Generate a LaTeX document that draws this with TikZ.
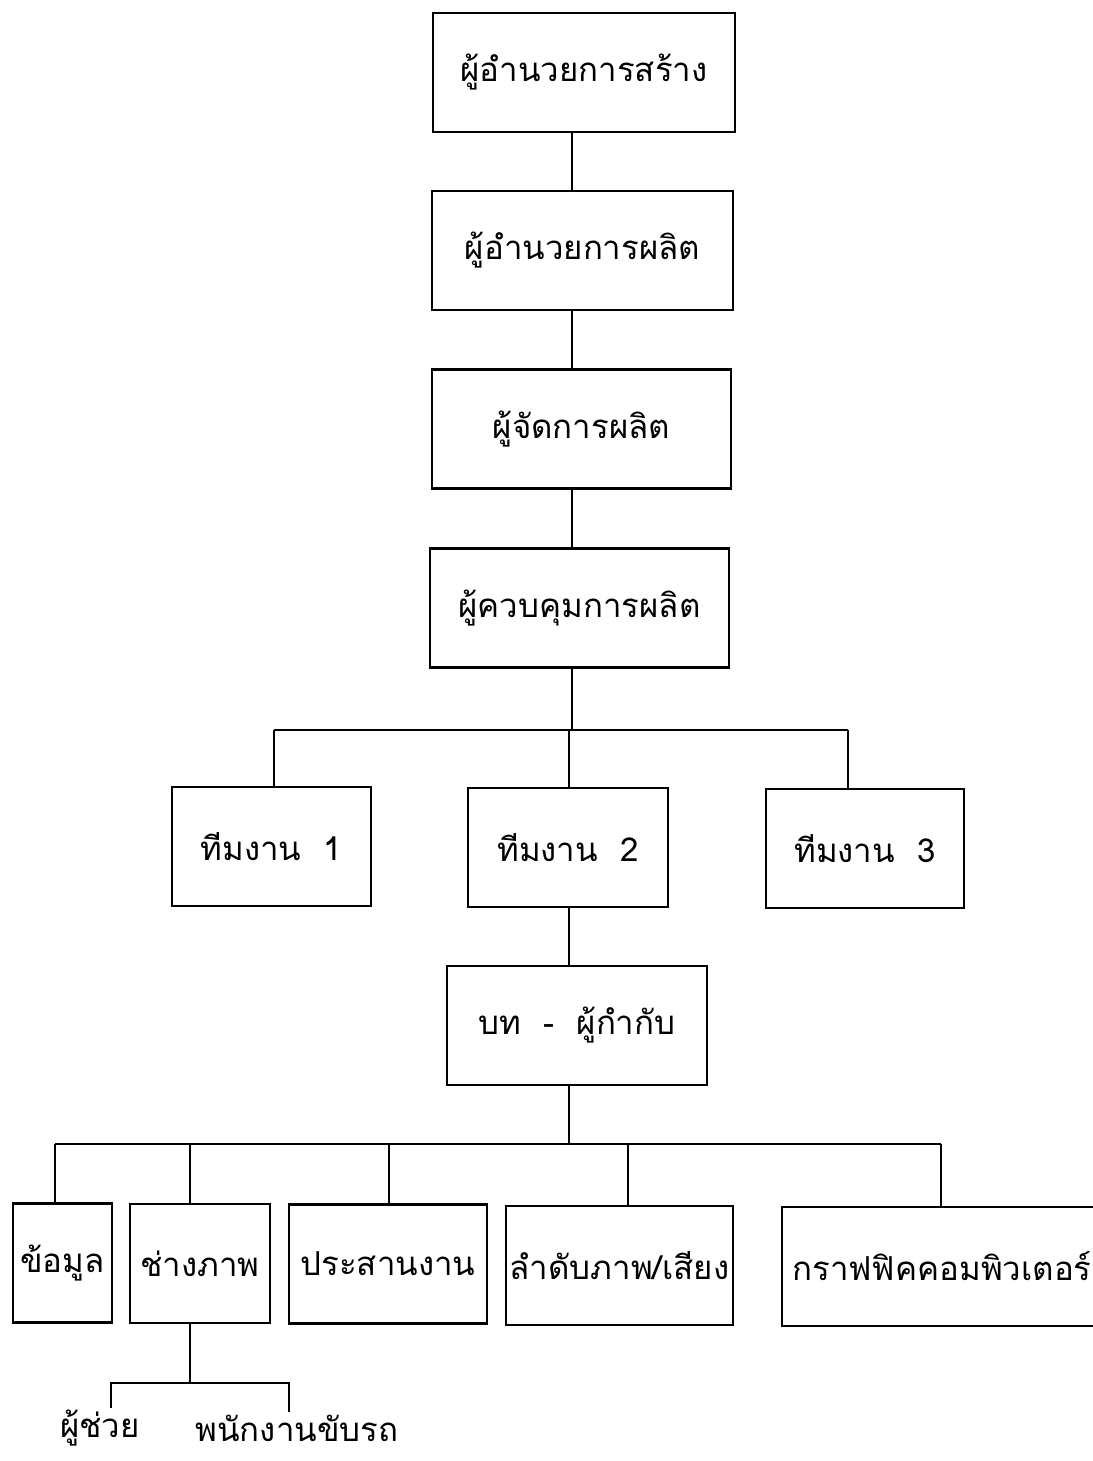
\documentclass[tikz,border=0pt]{standalone}
\usepackage{fontspec}
\newfontfamily\thaifont[Script=Thai]{Loma}
\usetikzlibrary{positioning}

\begin{document}
\begin{tikzpicture}[
    x=0.5pt, y=-0.5pt,
    % styles
    thai/.style={font=\thaifont\fontsize{16.5}{19}\selectfont},
    box/.style={draw, line width=1.3pt, thai, inner sep=0pt,
      minimum height=59.5pt, minimum width={#1*0.5pt}},
    link/.style={line width=1.3pt}]

    \useasboundingbox (0, 0) rectangle (1092, 1461);

    % chain of command
    \node [box=302] (creator) at (584, 72.5) {ผู้อำนวยการสร้าง};
    \node [box=301] (producer) at (582.5, 250.5) {ผู้อำนวยการผลิต};
    \node [box=299] (manager) at (581.5, 429) {ผู้จัดการผลิต};
    \node [box=299] (controller) at (579.5, 608) {ผู้ควบคุมการผลิต};

    % teams
    \node [box=199] (team1) at (271.5, 846.5) {ทีมงาน\ \ 1};
    \node [box=200] (team2) at (568, 847.5) {ทีมงาน\ \ 2};
    \node [box=198] (team3) at (865, 848.5) {ทีมงาน\ \ 3};

    % director
    \node [box=260] (director) at (577, 1025.5) {บท\ \ -\ \ ผู้กำกับ};

    % crew
    \node [box=99] (data) at (62.5, 1263) {ข้อมูล};
    \node [box=140] (camera) at (200, 1263.5) {ช่างภาพ};
    \node [box=198] (coord) at (388, 1264) {ประสานงาน};
    \node [box=227] (editing) at (619.5, 1265.5) {ลำดับภาพ/เสียง};
    \node [box=320] (graphics) at (942, 1266.5) {กราฟฟิคคอมพิวเตอร์};

    % helpers
    \node [thai, inner ysep=1pt] (assistant) at (100, 1428) {ผู้ช่วย};
    \node [thai, inner ysep=1pt] (driver) at (297, 1428) {พนักงานขับรถ};

    % spine
    \coordinate (spine) at (572, 0);
    \draw [link] (creator.south -| spine) -- (producer.north -| spine);
    \draw [link] (producer.south -| spine) -- (manager.north -| spine);
    \draw [link] (manager.south -| spine) -- (controller.north -| spine);

    % team bus
    \foreach \n/\x in {team1/274, team2/569, team3/848} {
      \coordinate (\n-top) at (\x, 730);
      \draw [link] (\n-top) -- (\n-top |- \n.north);
    }
    \draw [link] (team1-top) -- (team3-top);
    \draw [link] (controller.south -| spine) -- (spine |- team1-top);
    \draw [link] (team2-top |- team2.south) -- (team2-top |- director.north);

    % crew bus
    \foreach \n/\x in {data/55, camera/190, coord/389, editing/628, graphics/941} {
      \coordinate (\n-top) at (\x, 1144);
      \draw [link] (\n-top) -- (\n-top |- \n.north);
    }
    \draw [link] (data-top) -- (graphics-top);
    \draw [link] (team2-top |- director.south) -- (team2-top |- data-top);

    % helper bus
    \coordinate (assistant-top) at (111, 1383);
    \coordinate (driver-top) at (289, 1383);
    \draw [link] (camera-top |- camera.south) -- (camera-top |- driver-top);
    \draw [link] (assistant-top |- assistant.north) -- (assistant-top)
      -- (driver-top) -- (driver-top |- driver.north);

\end{tikzpicture}
\end{document}
